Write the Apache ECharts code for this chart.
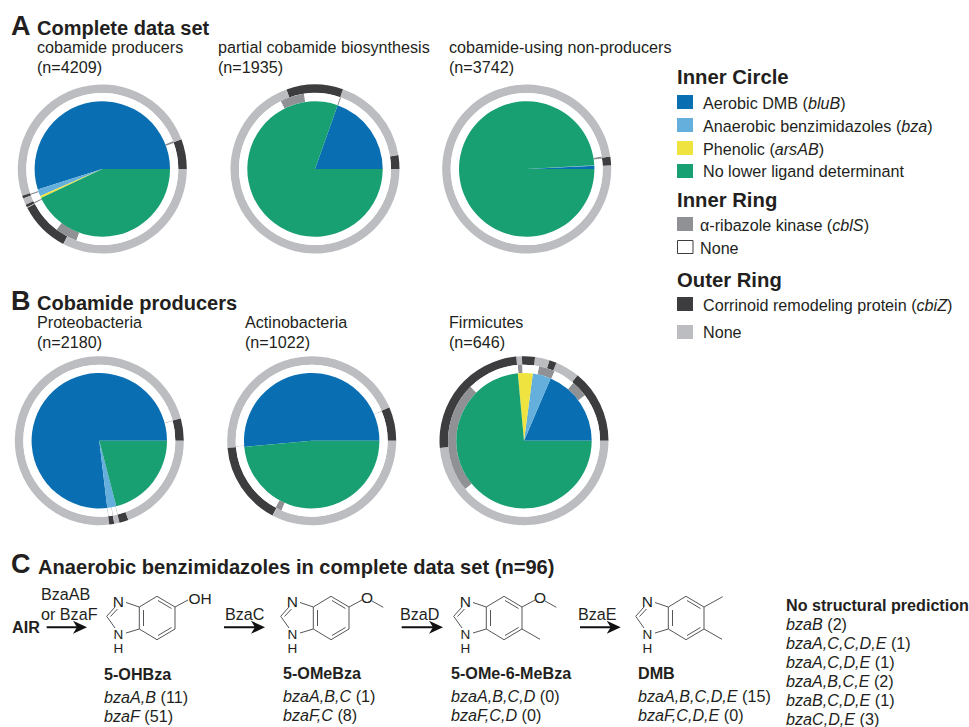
<!DOCTYPE html>
<html><head><meta charset="utf-8">
<style>html,body{margin:0;padding:0;background:#fff}#c{width:969px;height:727px}</style>
<script src="https://cdn.jsdelivr.net/npm/echarts@6/dist/echarts.min.js"></script>
</head><body><div id="c"></div>
<script>
// Inner circle order: bluB, bza, arsAB, none
const circleCategories = ['Aerobic DMB (bluB)','Anaerobic benzimidazoles (bza)','Phenolic (arsAB)','No lower ligand determinant'];
const panelNames = ['cobamide producers','partial cobamide biosynthesis','cobamide-using non-producers','Proteobacteria','Actinobacteria','Firmicutes'];
const panelN = [4209,1935,3742,2180,1022,646];
const circleA1 = [2310,70,20,1809];
const circleA2 = [379,0,0,1556];
const circleA3 = [28,4,0,3710];
const circleB1 = [1676,47,0,457];
const circleB2 = [526,0,0,496];
const circleB3 = [120,28,23,475];
// Inner ring: alternating None, cblS, None, ...
const innerA1 = [234,18,2075,12,70,12,304,199,1285];
const innerA2 = [376,5,148,99,1307];
const innerA3 = [83,16,3643];
const innerB1 = [91,2,1583,2,19,2,20,2,459];
const innerB2 = [65,1,457,1,162,14,322];
const innerB3 = [66,23,30,22,23,6,72,152,252];
// Outer ring: alternating cbiZ, None, cbiZ, ...
const outerA1 = [240,2081,23,53,23,6,409,1374];
const outerA2 = [51,329,210,1345];
const outerA3 = [0,26,62,3654];
const outerB1 = [93,1583,21,22,38,423];
const outerB2 = [66,459,163,334];
const outerB3 = [91,30,9,18,16,7,161,314];

const C = {blue:'#0a6fb2',light:'#64afdc',yellow:'#efe43f',green:'#19a072',dark:'#3d3d3f',mid:'#909195',pale:'#bcbdc1',text:'#231f20'};
const circleColors = [C.blue,C.light,C.yellow,C.green];
const centers = [[102.3,169],[315,169],[526.7,169],[99.3,440.7],[311.7,440.7],[524,440.7]];
const circles = [circleA1,circleA2,circleA3,circleB1,circleB2,circleB3];
const inners = [innerA1,innerA2,innerA3,innerB1,innerB2,innerB3];
const outers = [outerA1,outerA2,outerA3,outerB1,outerB2,outerB3];

function pie(center, radius, vals, colorFn, names){
  return {type:'pie',center,radius,startAngle:0,clockwise:false,silent:true,animation:false,
    label:{show:false},labelLine:{show:false},minAngle:0,avoidLabelOverlap:false,stillShowZeroSum:false,
    percentPrecision:4,
    data:vals.map((v,i)=>({value:v,name:names?names[i]:String(i),itemStyle:{color:colorFn(i),borderWidth:0}}))};
}
const series=[];
centers.forEach((c,k)=>{
  series.push(pie(c,[76,84.5],outers[k],i=>i%2?C.pale:C.dark));
  series.push(pie(c,[67.7,76],inners[k],i=>i%2?C.mid:'#ffffff'));
  series.push(pie(c,[0,67.7],circles[k],i=>circleColors[i],circleCategories));
});

const g=[];
const FF='"Liberation Sans",Arial,sans-serif';
const BODY=16.15;
function T(x,y,text,size,bold,opt){
  g.push(Object.assign({type:'text',x,y,silent:true,style:Object.assign({text,fill:C.text,
    font:(bold?'bold ':'')+size+'px '+FF,align:'left',verticalAlign:'middle',
    rich:{i:{fontStyle:'italic',fontSize:size,fontFamily:'Liberation Sans',fill:C.text,verticalAlign:'middle'}}},opt||{})}));
}
function L(x1,y1,x2,y2,w,col){g.push({type:'line',silent:true,shape:{x1,y1,x2,y2},style:{stroke:col||'#55565a',lineWidth:w||1}});}
function R(x,y,w,h,fill,stroke){g.push({type:'rect',silent:true,shape:{x,y,width:w,height:h},style:{fill,stroke:stroke||null,lineWidth:stroke?1:0}});}

// Panel headings
T(11,26,'A',27,true); T(37,28,'Complete data set',20,true);
T(11,301,'B',27,true); T(37,303,'Cobamide producers',20,true);
T(11,564,'C',27,true); T(38,567,'Anaerobic benzimidazoles in complete data set (n=96)',20.1,true);
const labelX=[37,218,449,37,245,449], labelY=[47,47,47,322,322,322];
panelNames.forEach((n,i)=>{T(labelX[i],labelY[i],n,BODY);T(labelX[i],labelY[i]+19.5,'(n='+panelN[i]+')',BODY);});

// Legend
T(677,77,'Inner Circle',20.3,true);
[[95,C.blue,103,'Aerobic DMB ({i|bluB})'],[118,C.light,126,'Anaerobic benzimidazoles ({i|bza})'],[141,C.yellow,149,'Phenolic ({i|arsAB})'],[164,C.green,171,'No lower ligand determinant']]
 .forEach(r=>{R(677,r[0],16,14,r[1]);T(703,r[2],r[3],BODY);});
T(677,200,'Inner Ring',20.3,true);
R(677,217,16,14,C.mid);T(700,225,'\u03b1-ribazole kinase ({i|cblS})',BODY);
R(677.5,240.5,15.5,13,'#fff','#3d3d3f');T(700,248,'None',BODY);
T(677,280,'Outer Ring',20.3,true);
R(677,297,16,14,C.dark);T(703,305,'Corrinoid remodeling protein ({i|cbiZ})',BODY);
R(677,325,16,14,C.pale);T(703,332,'None',BODY);

// Pathway: arrows and structures
function arrow(x1,x2,y){
  L(x1,y,x2-8,y,2,'#111');
  g.push({type:'polygon',silent:true,shape:{points:[[x2,y],[x2-14,y-6.5],[x2-10,y],[x2-14,y+6.5]]},style:{fill:'#111'}});
}
[[46.7,87],[224,265],[401.7,443],[580,620.7]].forEach(a=>arrow(a[0],a[1],627.3));
function ST(x,y,text,align,size){
  g.push({type:'text',x,y,silent:true,style:{text,font:(size||15.5)+'px '+FF,fill:C.text,align,verticalAlign:'middle'}});
}
function struct(cx,cy,sub){
  const p=(a,b,c,d)=>L(cx+a,cy+b,cx+c,cy+d,1,'#55565a');
  p(0,-21.7,18,-11);p(18,-11,18,11);p(18,11,0,21.7);p(0,21.7,-17.7,11);p(-17.7,11,-17.7,-11);p(-17.7,-11,0,-21.7);
  p(-13.5,-8,-13.5,8);p(1,-17.5,14.5,-9.5);p(1,17.5,14.5,9.5);
  p(-17.7,-11,-31,-15.5);p(-17.7,11,-31,15);
  p(-42,-11,-50.3,-1.7);p(-39.5,-9,-46.5,-1.5);p(-50.3,-1.7,-42,10);
  ST(cx-38.7,cy-17,'N','center');
  ST(cx-38.7,cy+16.7,'N','center',13.5);
  ST(cx-38.7,cy+30.3,'H','center',13.5);
  if(sub==='OH'){p(18,-11,31,-18);ST(cx+31.5,cy-20,'OH','left');}
  if(sub==='OMe'||sub==='OMeMe'){p(18,-11,31,-18);p(41,-17,52.3,-10.7);ST(cx+36,cy-20.5,'O','center');}
  if(sub==='OMeMe'||sub==='MeMe'){p(18,11,36,21.3);}
  if(sub==='MeMe'){p(18,-11,36.7,-21.3);}
}
struct(157,618,'OH');struct(331,618,'OMe');struct(504,618,'OMeMe');struct(686,618,'MeMe');

T(41,594,'BzaAB',BODY);T(41,614,'or BzaF',BODY);T(12,627,'AIR',BODY,true);
T(225,614,'BzaC',BODY);T(400,614,'BzaD',BODY);T(578,614,'BzaE',BODY);

const compounds=[
 [104,674,'5-OHBza','{i|bzaA,B} (11)','{i|bzaF} (51)'],
 [283,673,'5-OMeBza','{i|bzaA,B,C} (1)','{i|bzaF,C} (8)'],
 [451,673,'5-OMe-6-MeBza','{i|bzaA,B,C,D} (0)','{i|bzaF,C,D} (0)'],
 [638,673,'DMB','{i|bzaA,B,C,D,E} (15)','{i|bzaF,C,D,E} (0)']];
compounds.forEach(c=>{T(c[0],c[1],c[2],BODY,true);T(c[0],c[1]+22.5,c[3],BODY);T(c[0],c[1]+41.5,c[4],BODY);});

T(786,605,'No structural prediction',BODY,true);
['{i|bzaB} (2)','{i|bzaA,C,C,D,E} (1)','{i|bzaA,C,D,E} (1)','{i|bzaA,B,C,E} (2)','{i|bzaB,C,D,E} (1)','{i|bzaC,D,E} (3)']
 .forEach((t,i)=>T(786,624+i*19,t,BODY));

const chart=echarts.init(document.getElementById('c'),null,{renderer:'svg',width:969,height:727});
chart.setOption({animation:false,backgroundColor:'#fff',series,graphic:{elements:g}});
</script></body></html>
